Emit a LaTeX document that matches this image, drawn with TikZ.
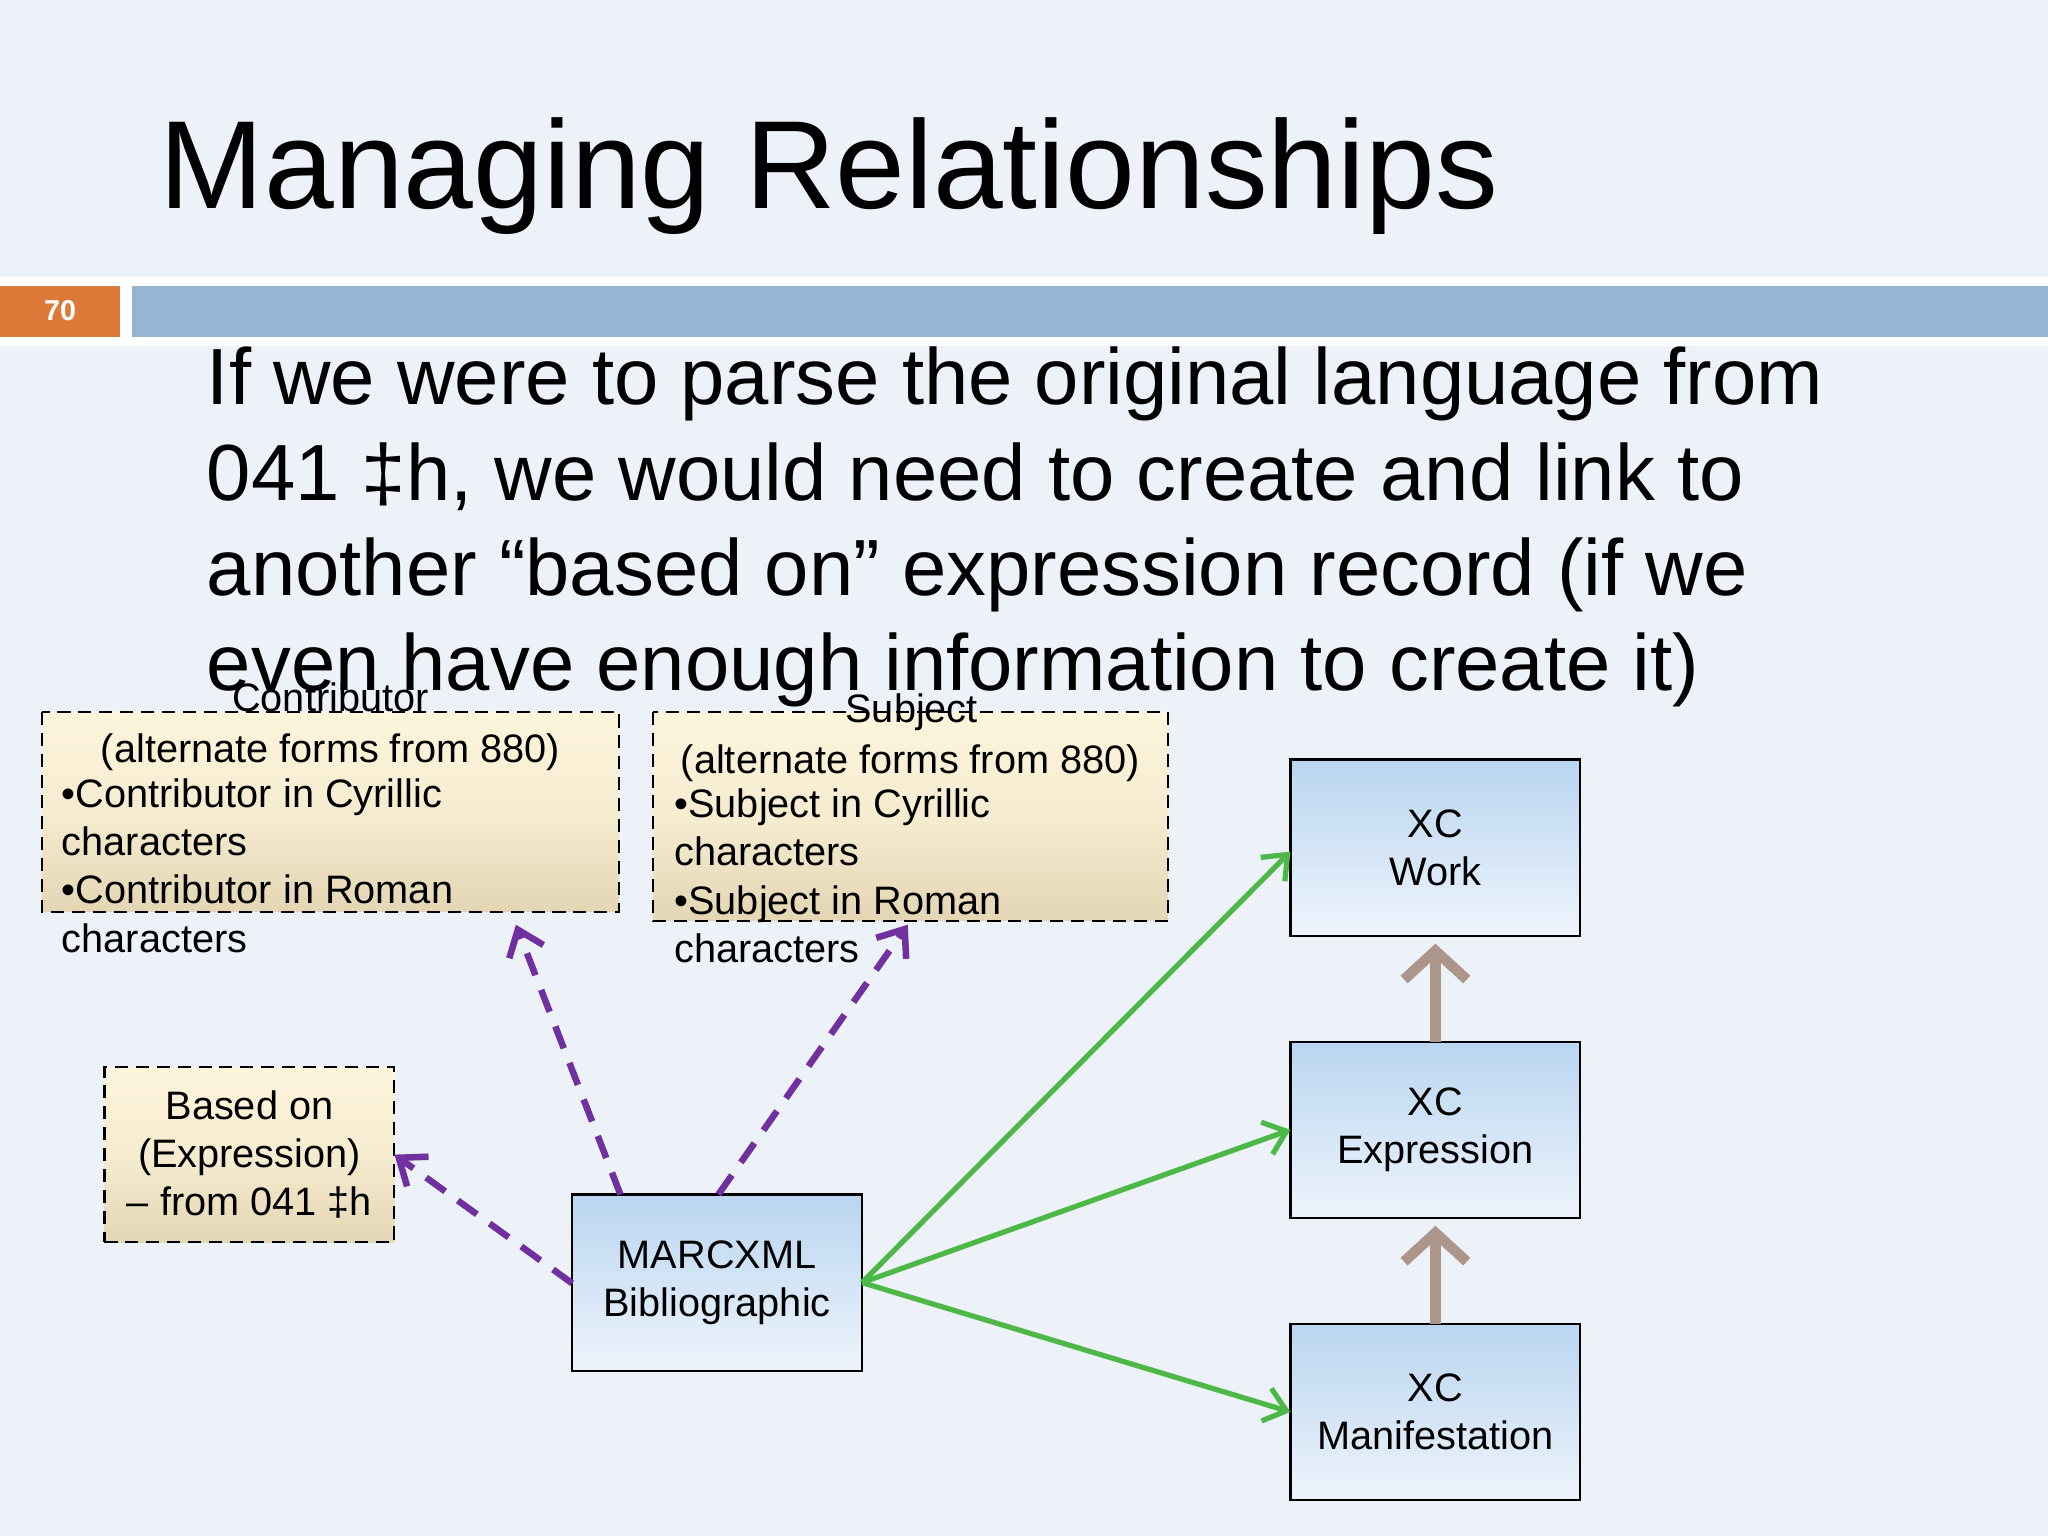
\documentclass[tikz,border=0pt]{standalone}
\usepackage{fontspec}
\setmainfont{Liberation Sans}
\usetikzlibrary{arrows.meta,calc}
\definecolor{bg}{HTML}{EDF1F8}
\definecolor{barblue}{HTML}{94B6D2}
\definecolor{barorange}{HTML}{DD7A3A}
\definecolor{purp}{HTML}{7030A0}
\definecolor{grn}{HTML}{4DB848}
\definecolor{brn}{HTML}{AC968C}
\definecolor{creamtop}{HTML}{FDF5DC}
\definecolor{creambot}{HTML}{E4D6B4}
\definecolor{bluetop}{HTML}{B9D5F0}
\definecolor{bluebot}{HTML}{EEF4FC}
\tikzset{
 x=0.5pt,y=-0.5pt,
 creambox/.style={draw=black,thick,dash pattern=on 5pt off 3pt,top color=creamtop,bottom color=creambot,middle color=creamtop!70!creambot,inner sep=0,outer sep=0},
 bluebox/.style={draw=black,thick,top color=bluetop,bottom color=bluebot,inner sep=0,outer sep=0},
 boxtxt/.style={font=\fontsize{15.2}{18.5}\selectfont,inner sep=0},
 parr/.style={purp,line width=2.5pt,dash pattern=on 9pt off 6pt,-{Straight Barb[length=9pt,width=14pt,line width=2.5pt]}},
 garr/.style={grn,line width=2pt,-{Straight Barb[length=8pt,width=13pt,line width=2pt]}},
 barr/.style={brn,line width=4.5pt,-{Straight Barb[length=11pt,width=24pt,line width=4pt]}},
}
\begin{document}
\begin{tikzpicture}
\fill[bg] (0,0) rectangle (1568,1176);
\useasboundingbox (0,0) rectangle (1568,1176);
\fill[white] (0,212) rectangle (1568,265);
\fill[barorange] (0,219) rectangle (92,258);
\fill[barblue] (101,219) rectangle (1568,258);
\node[text=white,font=\bfseries\fontsize{11}{13}\selectfont] (num) at (46,238) {70};
\node[anchor=base west,inner sep=0,font=\fontsize{48}{55}\selectfont] (title) at (122,160) {Managing Relationships};
\node[anchor=base west,inner sep=0,align=left,font=\fontsize{30.5}{36.5}\selectfont] (body) at (158,529)
 {If we were to parse the original language from\\041 ‡h, we would need to create and link to\\another “based on” expression record (if we\\even have enough information to create it)};
% boxes
\path[creambox] (32,545) rectangle (474,698);
\path[creambox] (500,545) rectangle (894,705);
\node[creambox,minimum width=111pt,minimum height=67pt] (based) at (191,884) {};
\node[bluebox,minimum width=111pt,minimum height=67.5pt] (marc) at (549,982) {};
\node[bluebox,minimum width=111pt,minimum height=67.5pt] (work) at (1099,649) {};
\node[bluebox,minimum width=111pt,minimum height=67.5pt] (expr) at (1099,865) {};
\node[bluebox,minimum width=111pt,minimum height=67.5pt] (manif) at (1099,1081) {};
% contributor text
\node[boxtxt,anchor=base] (ct) at (253,545) {Contributor};
\node[boxtxt,anchor=base] (c1) at (253,584) {(alternate forms from 880)};
\node[boxtxt,anchor=base west,align=left] (c2) at (47,729) {•Contributor in Cyrillic\\characters\\•Contributor in Roman\\characters};
% subject text
\node[boxtxt,anchor=base] (st) at (698,553) {Subject};
\node[boxtxt,anchor=base] (s1) at (697,592) {(alternate forms from 880)};
\node[boxtxt,anchor=base west,align=left] (s2) at (516,737) {•Subject in Cyrillic\\characters\\•Subject in Roman\\characters};
% other text
\node[boxtxt,align=center] at (based) {Based on\\(Expression)\\– from 041 ‡h};
\node[boxtxt,align=center] at (marc) {MARCXML\\Bibliographic};
\node[boxtxt,align=center] at (work) {XC\\Work};
\node[boxtxt,align=center] at (expr) {XC\\Expression};
\node[boxtxt,align=center] at (manif) {XC\\Manifestation};
% connectors
\coordinate (ctarget) at (395,708);
\coordinate (starget) at (695,708);
\draw[parr] ($(marc.north west)+(37,0)$) -- (ctarget);
\draw[parr] ($(marc.north west)+(112,0)$) -- (starget);
\draw[parr] ($(marc.north west)+(0,68)$) -- (based.east);
\draw[garr] (marc.east) -- ($(work.west)+(0,3)$);
\draw[garr] (marc.east) -- (expr.west);
\draw[garr] (marc.east) -- (manif.west);
\draw[barr] (expr.north) -- ([yshift=-3pt]work.south);
\draw[barr] (manif.north) -- ([yshift=-3pt]expr.south);
\end{tikzpicture}
\end{document}
